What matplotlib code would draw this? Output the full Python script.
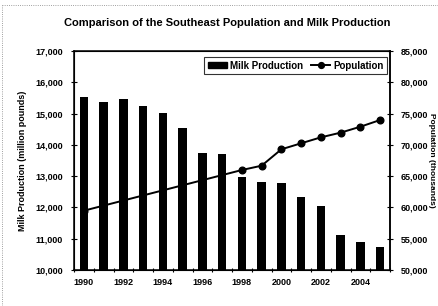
import matplotlib
matplotlib.use("Agg")
import matplotlib.pyplot as plt
from matplotlib.lines import Line2D
from matplotlib.ticker import FuncFormatter, MultipleLocator

plt.rcParams['font.family'] = ['Liberation Sans', 'DejaVu Sans']
plt.rcParams['font.weight'] = 'bold'

years = [1990, 1991, 1992, 1993, 1994, 1995, 1996, 1997,
         1998, 1999, 2000, 2001, 2002, 2003, 2004, 2005]
milk = [15520, 15360, 15480, 15250, 15030, 14530, 13740, 13700,
        12980, 12800, 12790, 12340, 12060, 11120, 10900, 10750]
pop_years = [1990, 1998, 1999, 2000, 2001, 2002, 2003, 2004, 2005]
population = [59480, 65980, 66670, 69290, 70250, 71200, 71950, 72900, 73970]
year_labels = [1990, 1992, 1994, 1996, 1998, 2000, 2002, 2004]

fig = plt.figure(figsize=(4.38, 3.06), dpi=100)
ax = fig.add_axes([74/438, 1-270/306, (390-74)/438, (270-51)/306])
ax.bar(years, milk, width=0.44, color='black', zorder=2)
ax.set_xlim(1989.5, 2005.5)
ax.set_ylim(10000, 17000)
ax.yaxis.set_major_locator(MultipleLocator(1000))
fmt = FuncFormatter(lambda v, p: f"{int(v):,}")
ax.yaxis.set_major_formatter(fmt)
ax.set_xticks(year_labels)
ax.set_xticklabels([str(y) for y in year_labels])
ax.set_xticks([y - 0.5 for y in years] + [2005.5], minor=True)
ax.tick_params(axis='x', which='major', length=0, labelsize=6.5, pad=6)
ax.tick_params(axis='x', which='minor', length=3, direction='inout', width=0.8)
ax.tick_params(axis='y', which='major', length=4, direction='inout', labelsize=6.5, pad=6, width=0.8)
ax.set_ylabel('Milk Production (million pounds)', fontsize=6.5, fontweight='bold', labelpad=6)
for s in ax.spines.values():
    s.set_linewidth(1.1)

ax2 = ax.twinx()
ax2.plot(pop_years, population, color='black', lw=1.4, marker='o', ms=4.8, zorder=3)
ax2.set_ylim(50000, 85000)
ax2.yaxis.set_major_locator(MultipleLocator(5000))
ax2.yaxis.set_major_formatter(fmt)
ax2.tick_params(axis='y', which='major', length=4, direction='inout', labelsize=6.5, pad=6, width=0.8)
ax2.set_ylabel('Population (thousands)', fontsize=6, fontweight='bold', rotation=-90, va='center')
ax2.yaxis.set_label_coords((432 - 74) / 316, 0.5)
ax2.spines['right'].set_linewidth(1.1)

handles = [plt.Rectangle((0, 0), 1, 1, color='black'),
           Line2D([], [], color='black', lw=1.4, marker='o', ms=4.2)]
leg = ax2.legend(handles, ['Milk Production', 'Population'], ncol=2,
                 loc='upper right', bbox_to_anchor=(0.997, 0.98),
                 fontsize=7, frameon=True, fancybox=False,
                 handlelength=2.0, handletextpad=0.3, columnspacing=0.8,
                 borderpad=0.35, handleheight=0.6, borderaxespad=0.2)
leg.get_frame().set_edgecolor('black')
leg.get_frame().set_linewidth(0.8)

fig.text(227/438, 1-23/306, 'Comparison of the Southeast Population and Milk Production',
         ha='center', va='center', fontsize=8, fontweight='bold')

# scanned frame edges
fig.add_artist(Line2D([2/438, 2/438], [0, 1-5/306], transform=fig.transFigure,
                      color='gray', lw=0.6, ls=':'))
fig.add_artist(Line2D([2/438, 1], [1-5/306, 1-5/306], transform=fig.transFigure,
                      color='gray', lw=0.6, ls=':'))

fig.savefig('out.png', dpi=100)
